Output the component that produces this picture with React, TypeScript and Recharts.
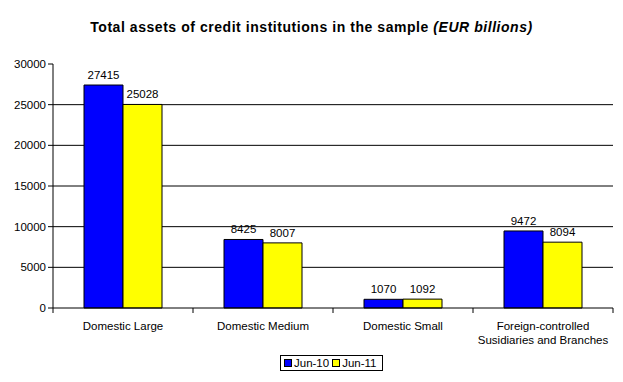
import React from "react";
import {
  BarChart,
  Bar,
  XAxis,
  YAxis,
  CartesianGrid,
  LabelList,
  Legend,
} from "recharts";

const categories = [
  "Domestic Large",
  "Domestic Medium",
  "Domestic Small",
  "Foreign-controlled\nSusidiaries and Branches",
];
const jun10 = [27415, 8425, 1070, 9472];
const jun11 = [25028, 8007, 1092, 8094];
const yTicks = [0, 5000, 10000, 15000, 20000, 25000, 30000];
const gridValues = [5000, 10000, 15000, 20000, 25000];

const data = categories.map((name, i) => ({
  name,
  jun10: jun10[i],
  jun11: jun11[i],
}));

const FONT = "'Liberation Sans', Arial, sans-serif";
const HALF_BAND = 70;

function CategoryTick(props: any) {
  const { x, y, payload, index } = props;
  const lines = String(payload.value).split("\n");
  return (
    <g>
      <line x1={x - HALF_BAND} y1={y - 8} x2={x - HALF_BAND} y2={y - 3} stroke="#000" />
      {index === categories.length - 1 && (
        <line x1={x + HALF_BAND} y1={y - 8} x2={x + HALF_BAND} y2={y - 3} stroke="#000" />
      )}
      <text x={x} y={y + 10} textAnchor="middle" fontSize={11.5} fontFamily={FONT} fill="#000">
        {lines.map((l, i) => (
          <tspan key={i} x={x} dy={i === 0 ? 4 : 14}>
            {l}
          </tspan>
        ))}
      </text>
    </g>
  );
}

function LegendBox() {
  const items = [
    { label: "Jun-10", color: "#0000ff" },
    { label: "Jun-11", color: "#ffff00" },
  ];
  return (
    <div
      style={{
        display: "inline-flex",
        alignItems: "center",
        border: "1px solid #000",
        padding: "1px 3px",
        fontFamily: FONT,
        fontSize: 11.5,
        background: "#fff",
      }}
    >
      {items.map((it) => (
        <span key={it.label} style={{ display: "inline-flex", alignItems: "center", marginRight: 3 }}>
          <span
            style={{
              display: "inline-block",
              width: 6,
              height: 6,
              background: it.color,
              border: "1px solid #000",
              marginRight: 2,
            }}
          />
          {it.label}
        </span>
      ))}
    </div>
  );
}

export default function App() {
  return (
    <div style={{ position: "absolute", left: 0, top: 0, width: 623, height: 382, background: "#fff" }}>
      <div
        style={{
          position: "absolute",
          top: 19,
          left: 0,
          width: 623,
          textAlign: "center",
          fontFamily: FONT,
          fontWeight: "bold",
          fontSize: 14,
          letterSpacing: 0.55,
        }}
      >
        Total assets of credit institutions in the sample <i>(EUR billions)</i>
      </div>
      <BarChart
        width={623}
        height={382}
        data={data}
        margin={{ top: 64, right: 10, left: 0, bottom: 0 }}
        barCategoryGap={31}
        barGap={0}
      >
        <CartesianGrid
          horizontal
          vertical={false}
          stroke="#000"
          horizontalValues={gridValues}
        />
        <YAxis
          width={53}
          domain={[0, 30000]}
          ticks={yTicks}
          interval={0}
          tickSize={5}
          stroke="#000"
          tick={{ fill: "#000", fontSize: 11.5, fontFamily: FONT }}
        />
        <XAxis
          dataKey="name"
          height={56}
          interval={0}
          tickLine={false}
          stroke="#000"
          tick={<CategoryTick />}
        />
        <Legend
          verticalAlign="bottom"
          content={() => <LegendBox />}
          wrapperStyle={{ position: "absolute", top: 353, left: 280, width: "auto", bottom: "auto" }}
        />
        <Bar dataKey="jun10" name="Jun-10" fill="#0000ff" stroke="#000" strokeWidth={1} isAnimationActive={false}>
          <LabelList dataKey="jun10" position="top" offset={6} fill="#000" fontSize={11.5} fontFamily={FONT} />
        </Bar>
        <Bar dataKey="jun11" name="Jun-11" fill="#ffff00" stroke="#000" strokeWidth={1} isAnimationActive={false}>
          <LabelList dataKey="jun11" position="top" offset={6} fill="#000" fontSize={11.5} fontFamily={FONT} />
        </Bar>
      </BarChart>
    </div>
  );
}
